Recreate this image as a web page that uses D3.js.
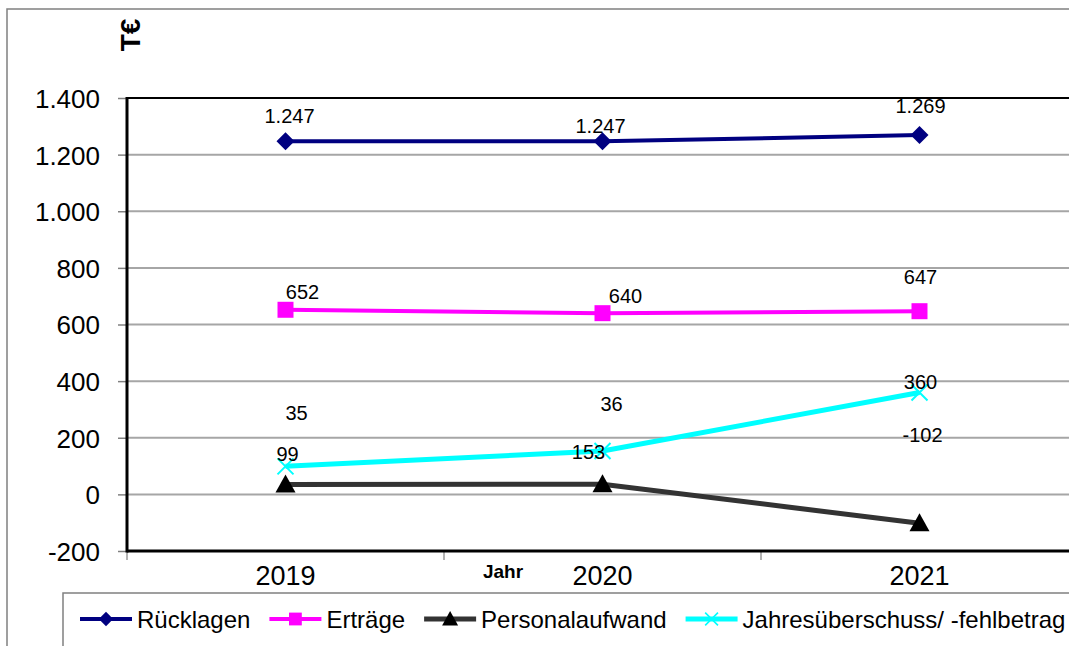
<!DOCTYPE html>
<html><head><meta charset="utf-8">
<script src="https://cdn.jsdelivr.net/npm/d3@7"></script>
<style>
html,body{margin:0;padding:0;background:#fff;}
svg{display:block;font-family:Arial,"Liberation Sans",sans-serif;}
</style></head>
<body>
<svg id="chart" width="1069" height="646"></svg>
<script>
// ---- data ----
const years = ["2019", "2020", "2021"];
const ruecklagen = [1247, 1247, 1269];
const ertraege = [652, 640, 647];
const personalaufwand = [35, 36, -102];
const jahresergebnis = [99, 153, 360];
const yTicks = [-200, 0, 200, 400, 600, 800, 1000, 1200, 1400];
const seriesNames = ["Rücklagen", "Erträge", "Personalaufwand", "Jahresüberschuss/ -fehlbetrag"];
const yTitle = "T€";
const xTitle = "Jahr";

// ---- style config ----
const seriesStyle = [
  {color: "#000080", width: 4, marker: "diamond", mcolor: "#000080"},
  {color: "#FF00FF", width: 4, marker: "square", mcolor: "#FF00FF"},
  {color: "#333333", width: 5, marker: "triangle", mcolor: "#000000"},
  {color: "#00FFFF", width: 5, marker: "x", mcolor: "#00FFFF"}
];
// data label offsets (dx, dy) relative to the point
const labelOffsets = [
  [[4, -26], [-2, -16], [1, -29]],
  [[17, -18], [23, -17], [1, -34]],
  [[11, -72], [9, -80], [3, -88]],
  [[2, -13], [-14, 1], [1, -11]]
];

const series = [ruecklagen, ertraege, personalaufwand, jahresergebnis];
const loc = d3.formatLocale({decimal: ",", thousands: ".", grouping: [3], currency: ["", "€"], minus: "-"});
const fmt = loc.format(",d");

const svg = d3.select("#chart");
const pLeft = 127, pRight = 1078, pTop = 98, pBottom = 551;

const x = d3.scaleBand().domain(years).range([pLeft, pRight]).padding(0);
const y = d3.scaleLinear().domain([-200, 1400]).range([pBottom, pTop]);

// outer chart border
svg.append("rect").attr("x", 7).attr("y", 9).attr("width", 1100).attr("height", 700)
  .attr("fill", "none").attr("stroke", "#808080").attr("stroke-width", 1.5);

// gridlines
svg.append("g").selectAll("line").data(yTicks.filter(t => t > -200 && t < 1400)).join("line")
  .attr("x1", pLeft).attr("x2", 1069).attr("y1", d => y(d)).attr("y2", d => y(d))
  .attr("stroke", "#a6a6a6").attr("stroke-width", 2);

// y axis
const yAxis = d3.axisLeft(y).tickValues(yTicks).tickFormat(fmt).tickSize(9).tickPadding(18);
const gy = svg.append("g").attr("transform", `translate(${pLeft},0)`).call(yAxis);
gy.select(".domain").remove();
gy.selectAll(".tick line").attr("stroke", "#808080").attr("stroke-width", 1.5);
gy.selectAll(".tick text").attr("font-size", 26).attr("fill", "#000").attr("dy", "0.36em")
  .attr("font-family", "Arial, 'Liberation Sans', sans-serif");

// x axis
const xAxis = d3.axisBottom(x).tickSize(0).tickPadding(15);
const gx = svg.append("g").attr("transform", `translate(0,${pBottom})`).call(xAxis);
gx.select(".domain").remove();
gx.selectAll(".tick text").attr("font-size", 27).attr("fill", "#000")
  .attr("font-family", "Arial, 'Liberation Sans', sans-serif");
// category boundary ticks
svg.append("g").selectAll("line").data(years).join("line")
  .attr("x1", d => x(d)).attr("x2", d => x(d)).attr("y1", pBottom).attr("y2", pBottom + 9)
  .attr("stroke", "#808080").attr("stroke-width", 1.2);

// plot border (left, top, bottom)
svg.append("line").attr("x1", pLeft).attr("x2", 1069).attr("y1", pTop).attr("y2", pTop).attr("stroke", "#000").attr("stroke-width", 2);
svg.append("line").attr("x1", pLeft).attr("x2", 1069).attr("y1", pBottom).attr("y2", pBottom).attr("stroke", "#000").attr("stroke-width", 3);
svg.append("line").attr("x1", pLeft).attr("x2", pLeft).attr("y1", pTop - 1).attr("y2", pBottom + 1.5).attr("stroke", "#000").attr("stroke-width", 3);

// titles
svg.append("text").attr("transform", "translate(140,35) rotate(-90)").attr("text-anchor", "middle")
  .attr("font-size", 28).attr("font-weight", "bold").text(yTitle);
svg.append("text").attr("x", 503).attr("y", 578).attr("text-anchor", "middle")
  .attr("font-size", 19).attr("font-weight", "bold").text(xTitle);

// marker generator
function markerPath(type) {
  if (type === "diamond") return "M0,-9L9,0L0,9L-9,0Z";
  if (type === "square") return d3.symbol(d3.symbolSquare, 256)();
  if (type === "triangle") return "M0,-10L10,8L-10,8Z";
  return "M-8,-8L8,8M-8,8L8,-8";
}
function drawMarker(g, type, color) {
  const p = g.append("path").attr("d", markerPath(type));
  if (type === "x") p.attr("fill", "none").attr("stroke", color).attr("stroke-width", 2);
  else p.attr("fill", color);
}

const line = d3.line().x((d, i) => x(years[i]) + x.bandwidth() / 2).y(d => y(d));

series.forEach((vals, si) => {
  const st = seriesStyle[si];
  const g = svg.append("g");
  g.append("path").datum(vals).attr("d", line).attr("fill", "none")
    .attr("stroke", st.color).attr("stroke-width", st.width).attr("stroke-linejoin", "round");
  vals.forEach((v, i) => {
    const mg = g.append("g").attr("transform", `translate(${x(years[i]) + x.bandwidth() / 2},${y(v)})`);
    drawMarker(mg, st.marker, st.mcolor);
  });
});

// data labels (on top)
series.forEach((vals, si) => {
  svg.append("g").selectAll("text").data(vals).join("text")
    .attr("x", (d, i) => x(years[i]) + x.bandwidth() / 2 + labelOffsets[si][i][0])
    .attr("y", (d, i) => y(d) + labelOffsets[si][i][1])
    .attr("dy", "0.36em").attr("text-anchor", "middle").attr("font-size", 20).attr("fill", "#000")
    .text(d => fmt(d));
});

// legend
const lg = svg.append("g");
lg.append("rect").attr("x", 63).attr("y", 593).attr("width", 1100).attr("height", 100)
  .attr("fill", "#fff").attr("stroke", "#808080").attr("stroke-width", 1.5);
let lx = 80;
const ly = 619;
seriesNames.forEach((name, si) => {
  const st = seriesStyle[si];
  lg.append("line").attr("x1", lx).attr("x2", lx + 52).attr("y1", ly).attr("y2", ly)
    .attr("stroke", st.color).attr("stroke-width", st.width);
  const mg = lg.append("g").attr("transform", `translate(${lx + 26},${ly})`);
  drawMarker(mg, st.marker, st.mcolor);
  mg.select("path").attr("transform", st.marker === "x" ? "scale(0.8)" : "scale(0.8)");
  const t = lg.append("text").attr("x", lx + 57).attr("y", ly).attr("dy", "0.36em")
    .attr("font-size", 24).attr("fill", "#000").text(name);
  lx = lx + 57 + t.node().getComputedTextLength() + 19;
});
</script>
</body></html>
